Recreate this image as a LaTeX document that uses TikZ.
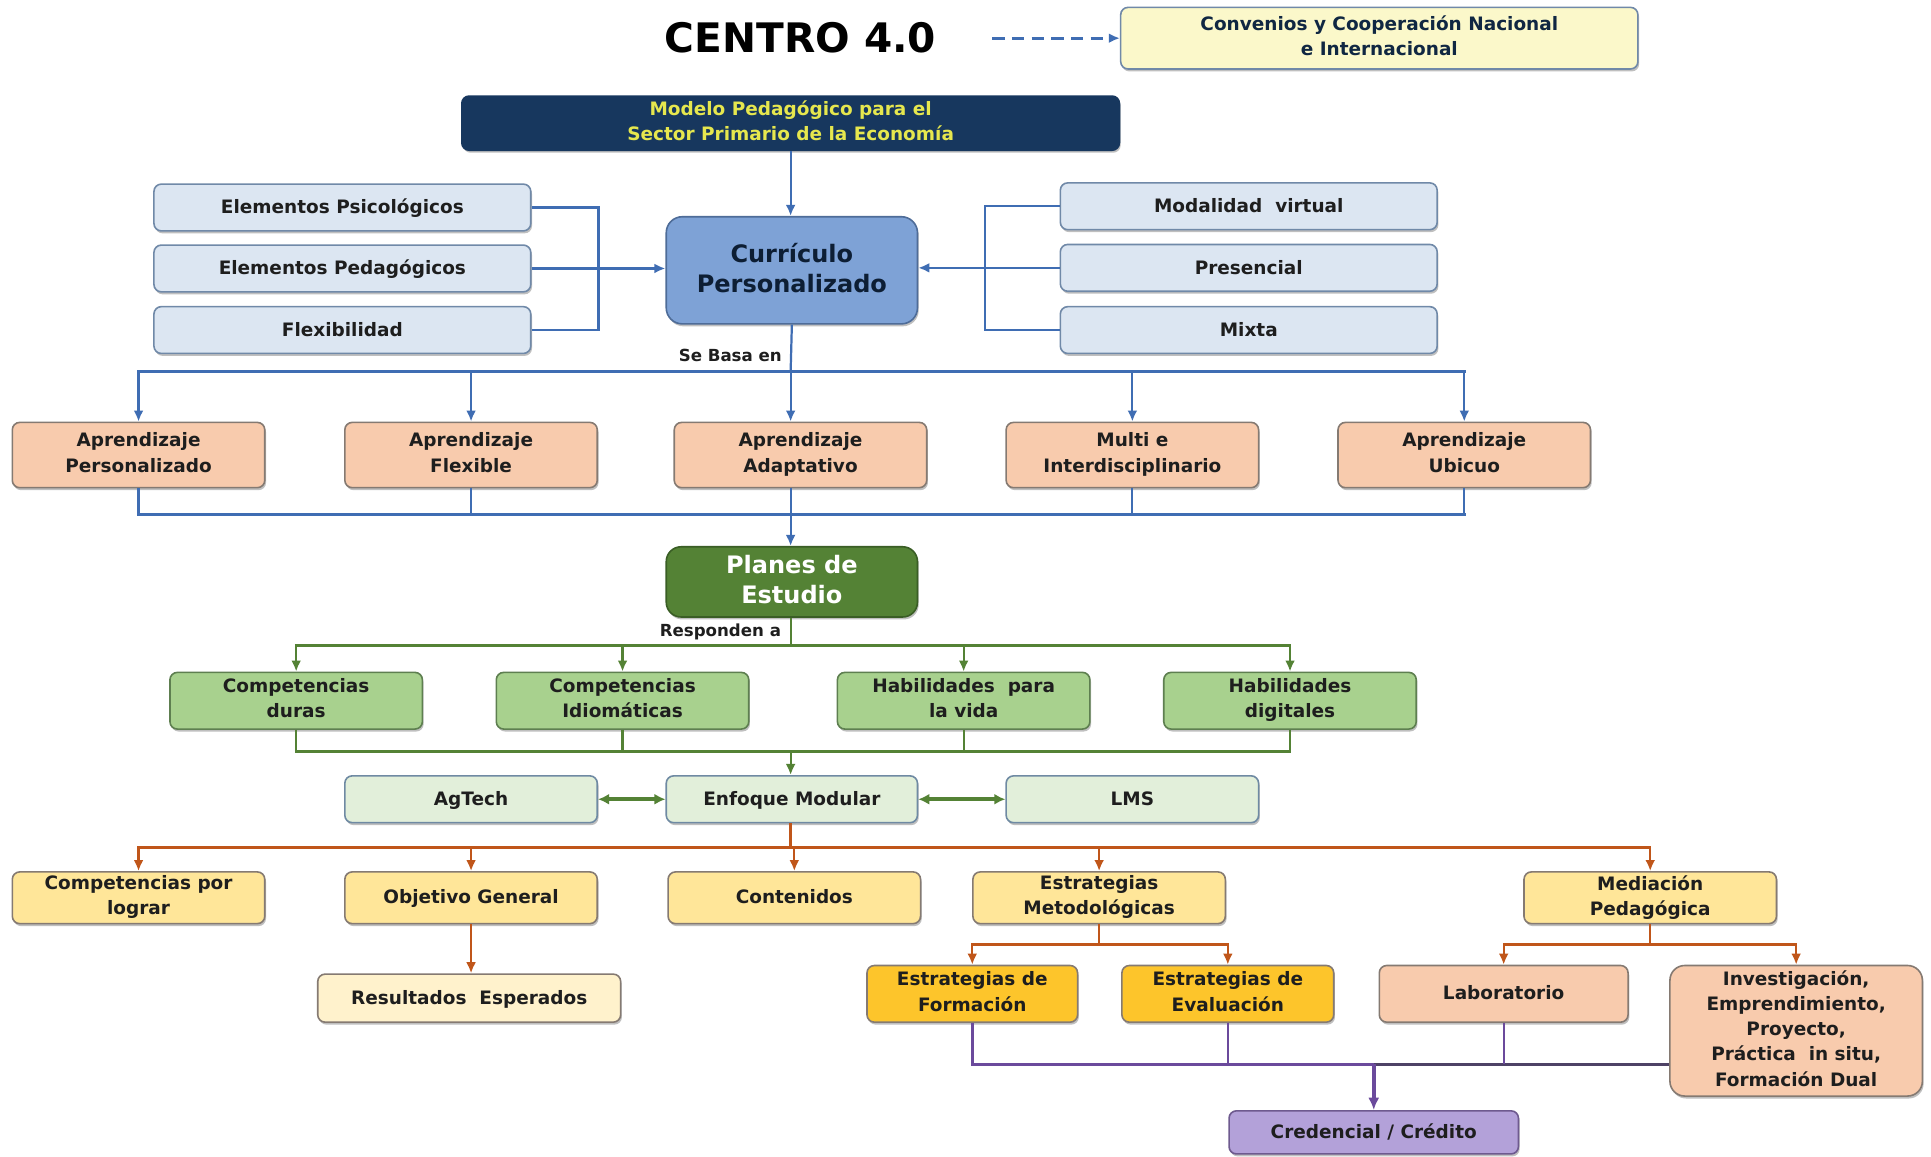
\documentclass[tikz,border=0pt]{standalone}
\usepackage{fontspec}
\setmainfont{DejaVu Sans}
\usetikzlibrary{arrows.meta,shadows,calc}
\definecolor{cBlue}{HTML}{3F6DB3}
\definecolor{cGreen}{HTML}{548235}
\definecolor{cOrange}{HTML}{C0561A}
\definecolor{cPurple}{HTML}{6B4A9C}
\definecolor{cPurpDark}{HTML}{4E4266}
\definecolor{fLB}{HTML}{DCE6F2}
\definecolor{dLB}{HTML}{7089A8}
\definecolor{fCur}{HTML}{7EA2D6}
\definecolor{dCur}{HTML}{4E6C98}
\definecolor{fNavy}{HTML}{17375E}
\definecolor{tYel}{HTML}{E6E74E}
\definecolor{fConv}{HTML}{FBF8CA}
\definecolor{fPeach}{HTML}{F8CBAD}
\definecolor{dGray}{HTML}{857A72}
\definecolor{fPlan}{HTML}{548235}
\definecolor{dPlan}{HTML}{3A5E25}
\definecolor{fGreen}{HTML}{A8D18E}
\definecolor{dGreen}{HTML}{5E7F50}
\definecolor{fPale}{HTML}{E2EFDA}
\definecolor{dPale}{HTML}{6F8AA3}
\definecolor{fYel}{HTML}{FFE699}
\definecolor{fCream}{HTML}{FFF2CC}
\definecolor{fGold}{HTML}{FDC52B}
\definecolor{fPurp}{HTML}{B3A1D9}
\definecolor{dPurp}{HTML}{6E5A8F}
\definecolor{txt}{HTML}{1E1E1E}
\newcommand\boxfont{\fontsize{15}{20.5}\selectfont\bfseries}
\newcommand\labfont{\fontsize{13.5}{16}\selectfont\bfseries}
\newcommand\myTopStrut{\rule{0pt}{14pt}}
\newcommand\myBotStrut{\rule[-4pt]{0pt}{4pt}}
\tikzset{
  box/.style={rounded corners=6pt, line width=1.3pt, align=center, inner sep=0pt,
    font=\boxfont, text=txt,
    execute at begin node=\myTopStrut, execute at end node=\myBotStrut,
    drop shadow={shadow xshift=1pt, shadow yshift=-2pt, opacity=0.25, fill=black}},
  lbbox/.style={box, fill=fLB, draw=dLB, minimum width=306pt, minimum height=38pt},
  orbox/.style={box, fill=fPeach, draw=dGray, minimum width=205pt, minimum height=53pt},
  grbox/.style={box, fill=fGreen, draw=dGreen, minimum width=205pt, minimum height=46pt},
  pabox/.style={box, fill=fPale, draw=dPale, minimum height=38pt},
  yebox/.style={box, fill=fYel, draw=dGray, minimum width=205pt, minimum height=42pt},
  gobox/.style={box, fill=fGold, draw=dGray, minimum height=46pt},
  conn/.style={line width=1.8pt},
  bus/.style={line width=2.4pt},
  arr/.style={conn, -{Latex[length=9pt,width=8pt]}},
}
\begin{document}
\begin{tikzpicture}[x=1pt,y=-1pt]
\useasboundingbox[fill=white] (0,0) rectangle (1568,939);

% title
\node[font=\fontsize{33}{36}\selectfont\bfseries, text=black] (title) at (650,31) {CENTRO 4.0};
\node[box, fill=fConv, draw=dLB, text=fNavy!70!black, minimum width=420pt, minimum height=50pt] (conv) at (1120,31)
  {Convenios y Cooperación Nacional\\e Internacional};
\draw[arr, line width=2.2pt, cBlue, dash pattern=on 10pt off 6pt, shorten <=42pt] (title.east) -- (conv.west);

% model
\node[box, fill=fNavy, draw=fNavy, text=tYel, minimum width=534pt, minimum height=44pt] (modelo) at (642,100)
  {Modelo Pedagógico para el\\Sector Primario de la Economía};
\node[box, rounded corners=13pt, fill=fCur, draw=dCur, text=fNavy!55!black, minimum width=204pt, minimum height=87pt,
  font=\fontsize{19.5}{25}\selectfont\bfseries] (curr) at (643,219.5) {Currículo\\Personalizado};
\draw[arr, cBlue] (modelo.south) -- (modelo.south |- curr.north);

% left & right
\node[lbbox] (ep1) at (278,168.5) {Elementos Psicológicos};
\node[lbbox] (ep2) at (278,218) {Elementos Pedagógicos};
\node[lbbox] (ep3) at (278,268) {Flexibilidad};
\node[lbbox] (mv1) at (1014,167.5) {Modalidad~~virtual};
\node[lbbox] (mv2) at (1014,217.5) {Presencial};
\node[lbbox] (mv3) at (1014,268) {Mixta};
\coordinate (lj) at (486,218);
\coordinate (rj) at (800,218);
\draw[conn, cBlue] (ep1.east) -| (lj) |- (ep3.east);
\draw[arr, cBlue] (ep2.east) -- (curr.west |- ep2.east);
\draw[conn, cBlue] (mv1.west) -| (rj) |- (mv3.west);
\draw[arr, cBlue] (mv2.west) -- (curr.east |- mv2.west);

% se basa en
\node[font=\labfont, text=txt] (sbl) at (593,289) {Se Basa en};
\node[orbox] (ap1) at (112.5,369.5) {Aprendizaje\\Personalizado};
\node[orbox] (ap2) at (382.5,369.5) {Aprendizaje\\Flexible};
\node[orbox] (ap3) at (650,369.5) {Aprendizaje\\Adaptativo};
\node[orbox] (ap4) at (919.5,369.5) {Multi e\\Interdisciplinario};
\node[orbox] (ap5) at (1189,369.5) {Aprendizaje\\Ubicuo};
\coordinate (sb) at (642,302);
\draw[conn, cBlue] (curr.south) -- (sb);
\draw[bus, cBlue] ($(ap1.north |- sb)+(-1,0)$) -- ($(ap5.north |- sb)+(1,0)$);
\foreach \n in {ap1,ap2,ap4,ap5} \draw[arr, cBlue] (\n.north |- sb) -- (\n.north);
\draw[arr, cBlue] (sb) -- (sb |- ap3.north);

\node[box, rounded corners=12pt, fill=fPlan, draw=dPlan, text=white, minimum width=204pt, minimum height=57pt,
  font=\fontsize{19.5}{25}\selectfont\bfseries] (plan) at (643,472.5) {Planes de\\Estudio};
\coordinate (bb) at (642,418);
\foreach \n in {ap1,ap2,ap4,ap5} \draw[conn, cBlue] (\n.south) -- (\n.south |- bb);
\draw[conn, cBlue] (bb |- ap3.south) -- (bb);
\draw[bus, cBlue] ($(ap1.south |- bb)+(-1,0)$) -- ($(ap5.south |- bb)+(1,0)$);
\draw[arr, cBlue] (bb) -- (bb |- plan.north);

% responden a
\node[font=\labfont, text=txt] (rpl) at (585,513) {Responden a};
\node[grbox] (g1) at (240.5,569) {Competencias\\duras};
\node[grbox] (g2) at (505.5,569) {Competencias\\Idiomáticas};
\node[grbox] (g3) at (782.5,569) {Habilidades~~para\\la vida};
\node[grbox] (g4) at (1047.5,569) {Habilidades\\digitales};
\coordinate (rb) at (642,524);
\draw[conn, cGreen] (plan.south -| rb) -- (rb);
\draw[bus, cGreen] ($(g1.north |- rb)+(-1,0)$) -- ($(g4.north |- rb)+(1,0)$);
\foreach \n in {g1,g2,g3,g4} \draw[arr, cGreen] (\n.north |- rb) -- (\n.north);

\node[pabox, minimum width=205pt] (ag) at (382.5,649) {AgTech};
\node[pabox, minimum width=204pt] (enf) at (643,649) {Enfoque Modular};
\node[pabox, minimum width=205pt] (lms) at (919.5,649) {LMS};
\coordinate (gb) at (642,610);
\foreach \n in {g1,g2,g3,g4} \draw[conn, cGreen] (\n.south) -- (\n.south |- gb);
\draw[bus, cGreen] ($(g1.south |- gb)+(-1,0)$) -- ($(g4.south |- gb)+(1,0)$);
\draw[arr, cGreen] (gb) -- (gb |- enf.north);
\draw[line width=3pt, cGreen, {Latex[length=9pt,width=9pt]}-{Latex[length=9pt,width=9pt]}] (ag.east) -- (enf.west);
\draw[line width=3pt, cGreen, {Latex[length=9pt,width=9pt]}-{Latex[length=9pt,width=9pt]}] (enf.east) -- (lms.west);

% yellow row
\node[yebox] (y1) at (112.5,729) {Competencias por\\lograr};
\node[yebox] (y2) at (382.5,729) {Objetivo General};
\node[yebox] (y3) at (645,729) {Contenidos};
\node[yebox] (y4) at (892.5,729) {Estrategias\\Metodológicas};
\node[yebox] (y5) at (1340,729) {Mediación\\Pedagógica};
\coordinate (ob) at (642,688);
\draw[line width=3pt, cOrange] (enf.south -| ob) -- (ob);
\draw[bus, cOrange] ($(y1.north |- ob)+(-1,0)$) -- ($(y5.north |- ob)+(1,0)$);
\foreach \n in {y1,y2,y3,y4,y5} \draw[arr, cOrange] (\n.north |- ob) -- (\n.north);

\node[box, fill=fCream, draw=dGray, minimum width=246pt, minimum height=39pt] (res) at (381,810.5) {Resultados~~Esperados};
\draw[arr, cOrange] (y2.south) -- (y2.south |- res.north);

\node[gobox, minimum width=171pt] (f1) at (789.5,807) {Estrategias de\\Formación};
\node[gobox, minimum width=172pt] (f2) at (997,807) {Estrategias de\\Evaluación};
\node[box, fill=fPeach, draw=dGray, minimum width=202pt, minimum height=46pt] (lab) at (1221,807) {Laboratorio};
\node[box, rounded corners=12pt, fill=fPeach, draw=dGray, minimum width=205pt, minimum height=106pt] (inv) at (1458.5,837)
  {Investigación,\\Emprendimiento,\\Proyecto,\\Práctica~~in situ,\\Formación Dual};
\coordinate (eb) at (892.5,767);
\coordinate (mb) at (1340,767);
\draw[conn, cOrange] (y4.south) -- (eb);
\draw[bus, cOrange] (f1.north |- eb) -- (f2.north |- eb);
\draw[arr, cOrange] (eb) -| (f1.north);
\draw[arr, cOrange] (eb) -| (f2.north);
\draw[conn, cOrange] (y5.south) -- (mb);
\draw[bus, cOrange] (lab.north |- mb) -- (inv.north |- mb);
\draw[arr, cOrange] (mb) -| (lab.north);
\draw[arr, cOrange] (mb) -| (inv.north);

% credencial
\node[box, fill=fPurp, draw=dPurp, minimum width=235pt, minimum height=35pt] (cred) at (1115.5,919.5) {Credencial / Crédito};
\coordinate (pb) at (1115.5,864);
\draw[bus, cPurple] (f1.south) |- (pb);
\draw[bus, cPurpDark] (pb) -- (inv.west |- pb);
\draw[conn, cPurple] (f2.south) -- (f2.south |- pb);
\draw[conn, cPurple] (lab.south) -- (lab.south |- pb);
\draw[line width=3pt, cPurple, -{Latex[length=10pt,width=9pt]}] (pb) -- (cred.north);
\end{tikzpicture}
\end{document}
